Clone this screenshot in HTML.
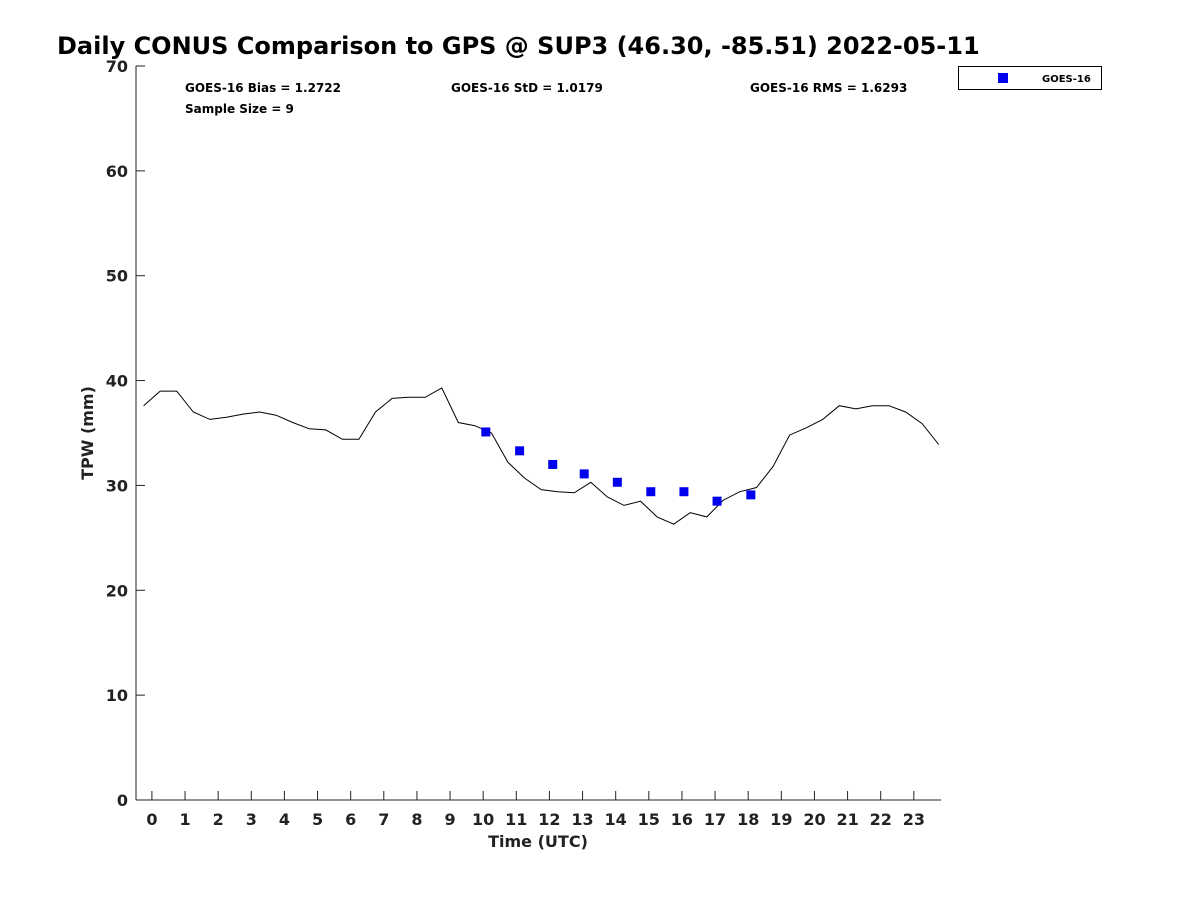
<!DOCTYPE html>
<html><head><meta charset="utf-8"><style>
body{margin:0;background:#fff}
svg text{font-family:"DejaVu Sans","Liberation Sans",sans-serif;font-weight:bold;fill:#222}
</style></head><body>
<svg id="chart" width="1200" height="900" xmlns="http://www.w3.org/2000/svg">
<text x="57" y="54" font-size="24" style="fill:#000">Daily CONUS Comparison to GPS @ SUP3 (46.30, -85.51) 2022-05-11</text>
<g id="axes"></g>
<g id="marks"></g>
<text x="185" y="92" font-size="12" style="fill:#000">GOES-16 Bias = 1.2722</text>
<text x="451" y="92" font-size="12" style="fill:#000">GOES-16 StD = 1.0179</text>
<text x="750" y="92" font-size="12" style="fill:#000">GOES-16 RMS = 1.6293</text>
<text x="185" y="113" font-size="12" style="fill:#000">Sample Size = 9</text>
<g>
<rect x="958.5" y="66.5" width="143" height="23" fill="#fff" stroke="#000" stroke-width="1"/>
<rect x="998" y="73" width="10" height="10" fill="#0000ee"/>
<text x="1042" y="82" font-size="10" style="fill:#000">GOES-16</text>
</g>
<text x="538" y="847" font-size="16" text-anchor="middle">Time (UTC)</text>
<text transform="translate(93,433) rotate(-90)" font-size="16" text-anchor="middle">TPW (mm)</text>
</svg>
<script>
const gpsTimes=[-0.25,0.25,0.75,1.25,1.75,2.25,2.75,3.25,3.75,4.25,4.75,5.25,5.75,6.25,6.75,7.25,7.75,8.25,8.75,9.25,9.75,10.25,10.75,11.25,11.75,12.25,12.75,13.25,13.75,14.25,14.75,15.25,15.75,16.25,16.75,17.25,17.75,18.25,18.75,19.25,19.75,20.25,20.75,21.25,21.75,22.25,22.75,23.25,23.75];
const gpsValues=[37.6,39.0,39.0,37.0,36.3,36.5,36.8,37.0,36.7,36.0,35.4,35.3,34.4,34.4,37.0,38.3,38.4,38.4,39.3,36.0,35.7,35.0,32.2,30.7,29.6,29.4,29.3,30.3,28.9,28.1,28.5,27.0,26.3,27.4,27.0,28.6,29.4,29.8,31.8,34.8,35.5,36.3,37.6,37.3,37.6,37.6,37.0,35.9,33.9];
const goesTimes=[10.08,11.1,12.1,13.05,14.05,15.06,16.06,17.06,18.08];
const goesValues=[35.1,33.3,32.0,31.1,30.3,29.4,29.4,28.5,29.1];
const xTicks=[0,1,2,3,4,5,6,7,8,9,10,11,12,13,14,15,16,17,18,19,20,21,22,23];
const yTicks=[0,10,20,30,40,50,60,70];
const NS='http://www.w3.org/2000/svg';
const X0=136,X1=941,Y0=800,Y1=66;
const xMin=-0.48,xMax=23.82,yMin=0,yMax=70;
const xs=v=>X0+(v-xMin)/(xMax-xMin)*(X1-X0);
const ys=v=>Y0-(v-yMin)/(yMax-yMin)*(Y0-Y1);
function mk(tag,attrs,parent){const e=document.createElementNS(NS,tag);for(const k in attrs)e.setAttribute(k,attrs[k]);parent.appendChild(e);return e;}
const axes=document.getElementById('axes'),marks=document.getElementById('marks');
let a=mk('line',{x1:X0,y1:Y1,x2:X0,y2:Y0,stroke:'#222','stroke-width':1},axes);


a=mk('line',{x1:X0,y1:Y0,x2:X1,y2:Y0,stroke:'#222','stroke-width':1},axes);


xTicks.forEach(t=>{
  const x=xs(t);
  const l=mk('line',{x1:x,y1:Y0,x2:x,y2:Y0-9,stroke:'#222'},axes);
  
  
  const tx=mk('text',{x:x,y:Y0+25,'font-size':16,'text-anchor':'middle'},axes);tx.textContent=t;
  
  
});
yTicks.forEach(t=>{
  const y=ys(t);
  const l=mk('line',{x1:X0,y1:y,x2:X0+9,y2:y,stroke:'#222'},axes);
  
  
  const tx=mk('text',{x:X0-8,y:y+6,'font-size':16,'text-anchor':'end'},axes);tx.textContent=t;
  
  
});
const pts=gpsTimes.map((t,i)=>xs(t).toFixed(1)+','+ys(gpsValues[i]).toFixed(1)).join(' ');
const pl=mk('polyline',{points:pts,fill:'none',stroke:'#000','stroke-width':1},marks);


goesTimes.forEach((t,i)=>{
  const r=mk('rect',{x:xs(t)-4.5,y:ys(goesValues[i])-4.5,width:9,height:9,fill:'#0000ee'},marks);
  
  
});
</script>
</body></html>
